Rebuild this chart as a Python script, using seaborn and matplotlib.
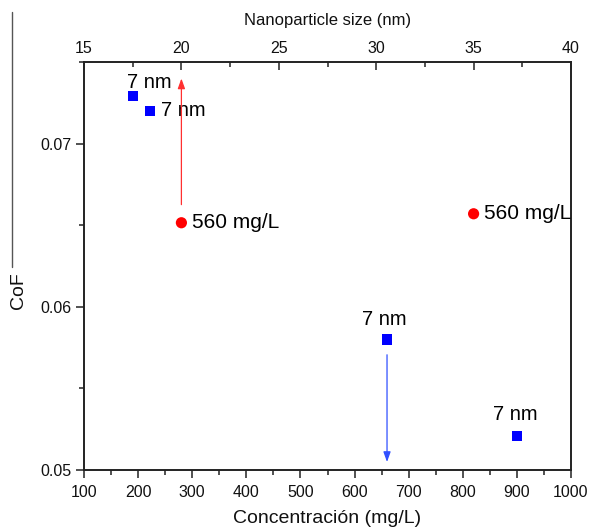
import matplotlib
matplotlib.use("Agg")
import matplotlib.pyplot as plt
from matplotlib.ticker import MultipleLocator
from matplotlib.lines import Line2D
import seaborn as sns
import pandas as pd

sns.set_theme(style="white")
plt.rcParams['font.family'] = ['Liberation Sans', 'DejaVu Sans']

# Blue series: CoF vs concentration (mg/L), 7 nm particles
conc_mgL = [190, 222, 660, 900]
cof_conc = [0.0729, 0.0720, 0.0580, 0.0521]
conc_labels = ["7 nm", "7 nm", "7 nm", "7 nm"]
conc_label_offsets = [(12, 10), (8, 0), (-2, 14), (-1, 15)]
conc_label_ha = ["center", "left", "center", "center"]

# Red series: CoF vs nanoparticle size (nm), 560 mg/L
size_nm = [20, 35]
cof_size = [0.06515, 0.0657]
size_labels = ["560 mg/L", "560 mg/L"]

# Arrows (x, y_start, y_end)
red_arrow = (20, 0.06626, 0.07399)
blue_arrow = (660, 0.05706, 0.05049)

df_conc = pd.DataFrame({"conc": conc_mgL, "cof": cof_conc})
df_size = pd.DataFrame({"size": size_nm, "cof": cof_size})

fig = plt.figure(figsize=(5.89, 5.32), dpi=100)
ax = fig.add_axes([84/589, 62/532, 487/589, 408/532])
ax2 = ax.twiny()

sns.scatterplot(data=df_conc, x="conc", y="cof", ax=ax, marker="s", s=55,
                color="#0000ff", edgecolor="none", linewidth=0, zorder=3)
sns.scatterplot(data=df_size, x="size", y="cof", ax=ax2, marker="o", s=65,
                color="#ff0000", edgecolor="none", linewidth=0, zorder=3)

ax.set_xlim(100, 1000)
ax.set_ylim(0.05, 0.075)
ax2.set_xlim(15, 40)

for (x, y, lab, off, ha) in zip(conc_mgL, cof_conc, conc_labels, conc_label_offsets, conc_label_ha):
    ax.annotate(lab, (x, y), xytext=off, textcoords="offset points",
                ha=ha, va="center", fontsize=14.5, color="black")
for (x, y, lab) in zip(size_nm, cof_size, size_labels):
    ax2.annotate(lab, (x, y), xytext=(7.5, 0), textcoords="offset points",
                 ha="left", va="center", fontsize=15, color="black")

ax2.annotate("", xy=(red_arrow[0], red_arrow[2]), xytext=(red_arrow[0], red_arrow[1]),
             arrowprops=dict(arrowstyle="-|>,head_length=0.5,head_width=0.18",
                             color="#ff3030", lw=0.9, shrinkA=0, shrinkB=0))
ax.annotate("", xy=(blue_arrow[0], blue_arrow[2]), xytext=(blue_arrow[0], blue_arrow[1]),
            arrowprops=dict(arrowstyle="-|>,head_length=0.5,head_width=0.18",
                            color="#3050ff", lw=0.9, shrinkA=0, shrinkB=0))

# Ticks
ax.xaxis.set_major_locator(MultipleLocator(100))
ax.xaxis.set_minor_locator(MultipleLocator(50))
ax.yaxis.set_major_locator(MultipleLocator(0.01))
ax.yaxis.set_minor_locator(MultipleLocator(0.005))
ax.yaxis.set_major_formatter(matplotlib.ticker.FuncFormatter(lambda v, p: f"{v:.2f}"))
ax2.xaxis.set_major_locator(MultipleLocator(5))
ax2.xaxis.set_minor_locator(MultipleLocator(2.5))

ax.tick_params(axis="both", which="major", direction="out", length=6, width=1.1,
               labelsize=11.5, color="#222222", labelcolor="#111111", pad=3)
ax.tick_params(axis="x", which="major", pad=5)
ax.tick_params(axis="both", which="minor", direction="out", length=3.5, width=1.1,
               color="#222222")
ax.tick_params(axis="x", which="both", bottom=True, top=False)
ax.tick_params(axis="y", which="both", left=True, right=False)
ax2.tick_params(axis="x", which="major", direction="in", length=6, width=1.1,
                labelsize=11.5, color="#222222", labelcolor="#111111", pad=4)
ax2.tick_params(axis="x", which="minor", direction="in", length=3.5, width=1.1,
                color="#222222")

for a in (ax, ax2):
    for sp in a.spines.values():
        sp.set_linewidth(1.2)
        sp.set_color("#222222")
        sp.set_visible(True)

ax.set_xlabel("Concentración (mg/L)", fontsize=14, color="#111111")
ax.xaxis.set_label_coords(0.5, -0.098)
ax.set_ylabel("CoF", fontsize=14, color="#111111")
ax.yaxis.set_label_coords(-0.118, 0.44)
ax2.set_xlabel("Nanoparticle size (nm)", fontsize=12, color="#111111")
ax2.xaxis.set_label_coords(0.5, 1.09)
ax2.set_ylabel("")

fig.add_artist(Line2D([12/589, 12/589], [1 - 12/532, 1 - 267/532],
                      transform=fig.transFigure, color="#555555", lw=1.0))

fig.savefig("out.png", dpi=100)
